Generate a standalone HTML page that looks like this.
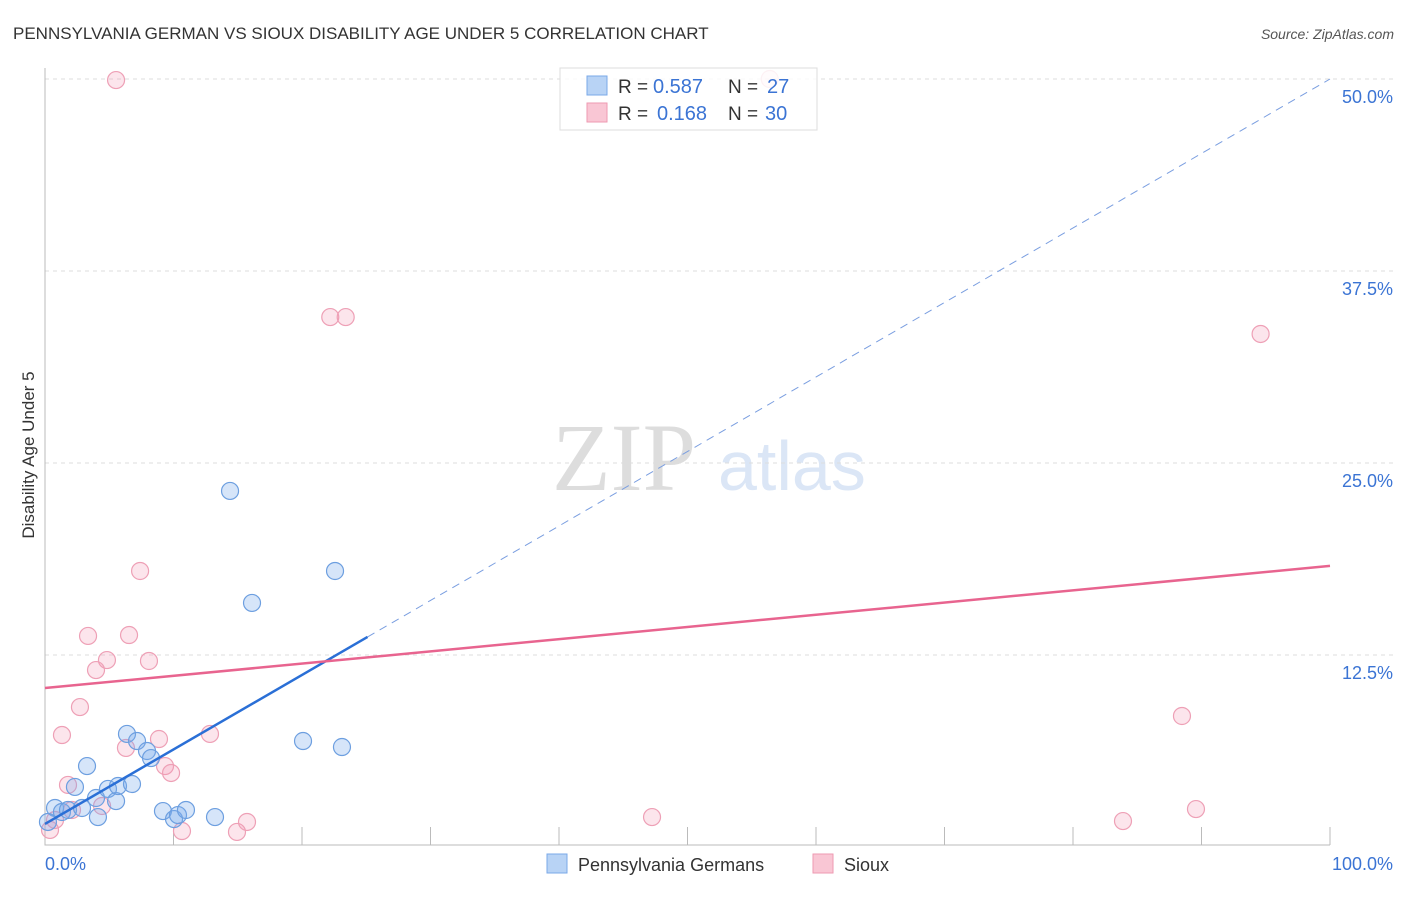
<!DOCTYPE html>
<html><head><meta charset="utf-8"><style>
body{margin:0;background:#fff;font-family:"Liberation Sans",sans-serif;}
svg text{font-family:"Liberation Sans",sans-serif;}
</style></head><body>
<svg id="chart" width="1406" height="892" xmlns="http://www.w3.org/2000/svg">
<text x="13" y="39" font-size="17" fill="#333">PENNSYLVANIA GERMAN VS SIOUX DISABILITY AGE UNDER 5 CORRELATION CHART</text>
<text x="1394" y="39" font-size="14" fill="#555" font-style="italic" text-anchor="end">Source: ZipAtlas.com</text>
<text x="552" y="490" font-size="96" fill="#ddd" style="font-family:'Liberation Serif',serif">ZIP</text>
<text x="718" y="490" font-size="70" fill="#dbe6f6">atlas</text>
<text transform="translate(34,455) rotate(-90)" font-size="17" fill="#333" text-anchor="middle">Disability Age Under 5</text>
<g id="grid"></g><g id="axes"></g><g id="pts"></g><g id="trends"></g>
<g>
<rect x="560" y="68" width="257" height="62" fill="#fff" fill-opacity="0.85" stroke="#ddd"/>
<rect x="587" y="76" width="20" height="19" fill="#b8d3f5" stroke="#7aa8e8"/>
<rect x="587" y="103" width="20" height="19" fill="#f9c6d4" stroke="#ee9ab2"/>
<text x="618" y="93" font-size="19" fill="#333">R =</text>
<text x="653" y="93" font-size="20" fill="#3b74d4">0.587</text>
<text x="728" y="93" font-size="19" fill="#333">N =</text>
<text x="767" y="93" font-size="20" fill="#3b74d4">27</text>
<text x="618" y="120" font-size="19" fill="#333">R =</text>
<text x="657" y="120" font-size="20" fill="#3b74d4">0.168</text>
<text x="728" y="120" font-size="19" fill="#333">N =</text>
<text x="765" y="120" font-size="20" fill="#3b74d4">30</text>
</g>
<g>
<rect x="547" y="854" width="20" height="19" fill="#b8d3f5" stroke="#7aa8e8"/>
<text x="578" y="871" font-size="18" fill="#333">Pennsylvania Germans</text>
<rect x="813" y="854" width="20" height="19" fill="#f9c6d4" stroke="#ee9ab2"/>
<text x="844" y="871" font-size="18" fill="#333">Sioux</text>
</g>
</svg>
<script>
const yTicks=[12.5,25,37.5,50];
const yTickLabels=["12.5%","25.0%","37.5%","50.0%"];
const blueX=[0.78,1.32,1.79,2.33,2.88,3.27,3.97,4.12,4.90,5.53,5.68,6.38,6.77,7.16,7.94,8.25,9.18,10.04,10.35,10.97,13.23,14.40,16.11,20.08,22.57,23.11,0.23];
const blueY=[2.54,2.28,2.41,3.91,2.54,5.27,3.19,1.95,3.78,2.99,3.97,7.36,4.10,6.90,6.25,5.79,2.34,1.82,2.08,2.41,1.95,23.18,15.89,6.90,17.97,6.51,1.63];
const pinkX=[5.53,56.4,22.2,23.4,94.6,7.4,3.35,6.54,4.82,8.09,3.97,2.72,1.32,6.30,8.87,12.84,9.34,9.81,1.79,4.44,2.10,10.66,14.94,15.72,47.24,83.89,88.48,89.57,0.39,0.78];
const pinkY=[49.93,50.0,34.5,34.5,33.4,17.97,13.74,13.8,12.17,12.11,11.52,9.11,7.29,6.45,7.03,7.36,5.27,4.82,4.04,2.67,2.41,1.04,0.98,1.63,1.95,1.69,8.53,2.47,1.11,1.76];
const blueTrend=[1.5,50.0];
const pinkTrend=[10.35,18.3];
const X=v=>45+v*12.85, Y=v=>847-v*15.36;
const NS="http://www.w3.org/2000/svg";
function mk(p,t,a){const e=document.createElementNS(NS,t);for(const k in a)e.setAttribute(k,a[k]);p.appendChild(e);return e;}
const grid=document.getElementById('grid'),axes=document.getElementById('axes'),pts=document.getElementById('pts'),tr=document.getElementById('trends');
yTicks.forEach((t,i)=>{
 const l=mk(grid,'line',{x1:45,x2:1395,y1:Y(t),y2:Y(t),stroke:'#ddd','stroke-dasharray':'4,4'});
 
 
 const tx=mk(grid,'text',{x:1393,y:Y(t)+24,'font-size':18,fill:'#3b74d4','text-anchor':'end'});
 tx.textContent=yTickLabels[i];
 
 
});
const ax=mk(axes,'path',{d:'M45,68V845H1330',stroke:'#bbb',fill:'none'});


for(let i=1;i<=10;i++){const t=mk(axes,'line',{x1:X(i*10),x2:X(i*10),y1:827,y2:845,stroke:'#bbb'});
 
 }
const x0=mk(axes,'text',{x:45,y:870,'font-size':18,fill:'#3b74d4'});x0.textContent='0.0%';


const x1=mk(axes,'text',{x:1393,y:870,'font-size':18,fill:'#3b74d4','text-anchor':'end'});x1.textContent='100.0%';


pinkX.forEach((v,i)=>{const c=mk(pts,'circle',{cx:X(v),cy:Y(pinkY[i]),r:8.5,fill:'rgba(244,150,178,0.25)',stroke:'#eea0b6','stroke-width':1.2});
 
 });
blueX.forEach((v,i)=>{const c=mk(pts,'circle',{cx:X(v),cy:Y(blueY[i]),r:8.5,fill:'rgba(120,170,235,0.3)',stroke:'#6d9fe0','stroke-width':1.2});
 
 });
const bEnd=25.1, bAt=x=>blueTrend[0]+(blueTrend[1]-blueTrend[0])*x/100;
const bd=mk(tr,'line',{x1:X(bEnd),y1:Y(bAt(bEnd)),x2:X(100),y2:Y(bAt(100)),stroke:'#7a9ee0','stroke-width':1,'stroke-dasharray':'8,6'});


const bs=mk(tr,'line',{x1:X(0),y1:Y(bAt(0)),x2:X(bEnd),y2:Y(bAt(bEnd)),stroke:'#2a6fd6','stroke-width':2.5});


const ps=mk(tr,'line',{x1:X(0),y1:Y(pinkTrend[0]),x2:X(100),y2:Y(pinkTrend[1]),stroke:'#e8648f','stroke-width':2.5});


</script>
</body></html>
